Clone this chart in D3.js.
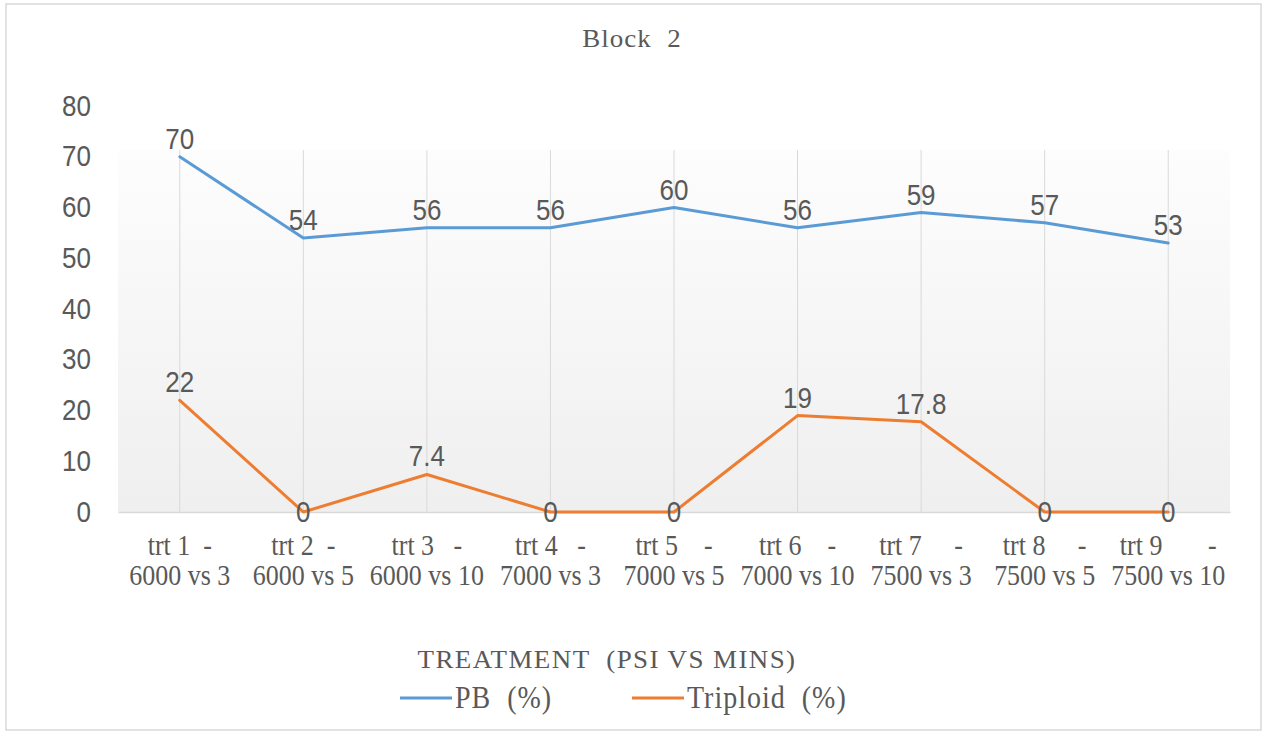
<!DOCTYPE html>
<html>
<head>
<meta charset="utf-8">
<script src="https://cdn.jsdelivr.net/npm/d3@7"></script>
<style>
body { margin: 0; background: #fff; }
text { fill: #595959; white-space: pre; }
</style>
</head>
<body>
<svg id="chart"></svg>
<script>
// chart data
const categories = [
  "trt 1  -\n6000 vs 3",
  "trt 2  -\n6000 vs 5",
  "trt 3   -\n6000 vs 10",
  "trt 4   -\n7000 vs 3",
  "trt 5    -\n7000 vs 5",
  "trt 6    -\n7000 vs 10",
  "trt 7     -\n7500 vs 3",
  "trt 8     -\n7500 vs 5",
  "trt 9       -\n7500 vs 10"
];
const pbValues = [70, 54, 56, 56, 60, 56, 59, 57, 53];
const triploidValues = [22, 0, 7.4, 0, 0, 19, 17.8, 0, 0];
const yTicks = [0, 10, 20, 30, 40, 50, 60, 70, 80];
const seriesNames = ["PB  (%)", "Triploid  (%)"];
const colors = ["#5B9BD5", "#ED7D31"];

const width = 1262, height = 732;
const svg = d3.select('#chart').attr('width', width).attr('height', height);

const serif = '"Liberation Serif", "Times New Roman", serif';
const sans = '"Liberation Sans", Arial, sans-serif';

// outer chart border
svg.append('rect')
  .attr('x', 6).attr('y', 4).attr('width', 1255).attr('height', 726)
  .attr('fill', '#fff').attr('stroke', '#d9d9d9').attr('stroke-width', 1.5);

const x = d3.scaleBand().domain(categories).range([118, 1230]);
const y = d3.scaleLinear().domain([0, 80]).range([512, 106]);
const cx = c => x(c) + x.bandwidth() / 2;

// plot area gradient
const defs = svg.append('defs');
const grad = defs.append('linearGradient').attr('id', 'bg')
  .attr('x1', 0).attr('y1', 0).attr('x2', 0).attr('y2', 1);
grad.append('stop').attr('offset', '0%').attr('stop-color', '#fdfdfd');
grad.append('stop').attr('offset', '100%').attr('stop-color', '#efefef');

svg.append('rect')
  .attr('x', 118).attr('y', 150).attr('width', 1112).attr('height', 362)
  .attr('fill', 'url(#bg)');

// vertical gridlines
svg.append('g').selectAll('line').data(categories)
  .enter().append('line')
  .attr('x1', d => cx(d)).attr('x2', d => cx(d))
  .attr('y1', 150).attr('y2', y(0))
  .attr('stroke', '#d9d9d9').attr('stroke-width', 1);

// y axis
const yAxis = svg.append('g')
  .attr('transform', 'translate(118,0)')
  .call(d3.axisLeft(y).tickValues(yTicks).tickSize(0).tickPadding(27));
yAxis.select('.domain').remove();
yAxis.selectAll('text')
  .attr('font-family', sans).attr('font-size', 26).attr('fill', '#595959')
  .attr('transform', 'scale(1,1.1)');

// x axis (baseline + two-line labels, one text per line)
const xAxis = svg.append('g')
  .attr('transform', `translate(0,${y(0)})`)
  .call(d3.axisBottom(x).tickSize(0).tickFormat(''));
xAxis.select('.domain').attr('stroke', '#d9d9d9').attr('stroke-width', 1.5);
xAxis.selectAll('.tick').each(function(d) {
  d3.select(this).selectAll('text.lbl').data(d.split('\n'))
    .enter().append('text').attr('class', 'lbl')
    .attr('font-family', serif).attr('font-size', 26)
    .attr('text-anchor', 'middle').attr('fill', '#595959')
    .attr('transform', (l, i) => `translate(0,${43 + i * 30}) scale(1,1.12)`)
    .text(l => l);
});

// lines and data labels
const line = d3.line().x((v, i) => cx(categories[i])).y(v => y(v));
[pbValues, triploidValues].forEach((vals, s) => {
  svg.append('path').datum(vals)
    .attr('d', line).attr('fill', 'none')
    .attr('stroke', colors[s]).attr('stroke-width', 3)
    .attr('stroke-linejoin', 'round').attr('stroke-linecap', 'round');

  svg.append('g').selectAll('text').data(vals)
    .enter().append('text')
    .attr('font-family', sans).attr('font-size', 26)
    .attr('text-anchor', 'middle')
    .attr('transform', (v, i) => `translate(${cx(categories[i])},${v === 0 ? y(v) + 10 : y(v) - 8}) scale(1,1.1)`)
    .text(v => v);
});

// title
svg.append('text')
  .attr('font-family', serif).attr('font-size', 27).attr('text-anchor', 'middle')
  .attr('letter-spacing', 1)
  .attr('transform', 'translate(632,47) scale(1,0.9)')
  .text('Block  2');

// axis title
svg.append('text')
  .attr('font-family', serif).attr('font-size', 27).attr('text-anchor', 'middle')
  .attr('letter-spacing', 1.4)
  .attr('transform', 'translate(607,668) scale(1,0.9)')
  .text('TREATMENT  (PSI VS MINS)');

// legend
const legendX = [400, 632];
seriesNames.forEach((name, i) => {
  const g = svg.append('g').attr('transform', `translate(${legendX[i]},698)`);
  g.append('line').attr('x1', 0).attr('x2', 52).attr('y1', 0).attr('y2', 0)
    .attr('stroke', colors[i]).attr('stroke-width', 3);
  g.append('text')
    .attr('font-family', serif).attr('font-size', 28)
    .attr('letter-spacing', 1)
    .attr('transform', 'translate(55,10) scale(1,1.1)')
    .text(name);
});
</script>
</body>
</html>
